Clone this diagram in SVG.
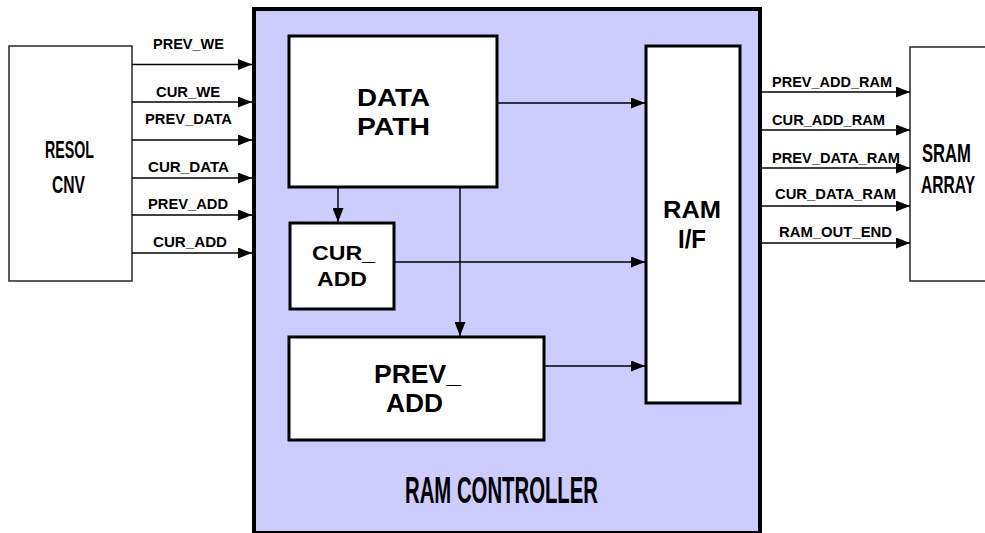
<svg xmlns="http://www.w3.org/2000/svg" width="985" height="533" viewBox="0 0 985 533">
<style>
.ext{fill:#fff;stroke:#333;stroke-width:1.6}
.blk{fill:#fff;stroke:#000;stroke-width:3}
.ctl{fill:#ccccff;stroke:#000;stroke-width:4}
.w{stroke:#000;stroke-width:1.4;fill:none}
.lbl{font-family:"Liberation Sans",Arial,sans-serif;font-weight:bold;font-size:14px;fill:#000}
.big{font-family:"Liberation Sans",Arial,sans-serif;font-weight:bold;fill:#000}
</style>
<defs>
<marker id="ah" markerUnits="userSpaceOnUse" markerWidth="14" markerHeight="11" refX="14" refY="5.5" orient="auto">
<path d="M0,0 L14,5.5 L0,11 z" fill="#000"/>
</marker>
</defs>
<rect width="985" height="533" fill="#fff"/>
<g id="ram-controller">
<rect class="ctl" x="254" y="9" width="506" height="524"/>
<text class="big" x="405" y="503" font-size="36" textLength="193" lengthAdjust="spacingAndGlyphs">RAM CONTROLLER</text>
</g>
<g id="resol-cnv">
<rect class="ext" x="9" y="46" width="123" height="235"/>
<text class="big" x="45" y="158" font-size="23" textLength="49" lengthAdjust="spacingAndGlyphs">RESOL</text>
<text class="big" x="52" y="193" font-size="24" textLength="33" lengthAdjust="spacingAndGlyphs">CNV</text>
</g>
<g id="sram-array">
<rect class="ext" x="910" y="47" width="80" height="234"/>
<text class="big" transform="translate(922,162) scale(0.64,1)" font-size="26">SRAM</text>
<text class="big" transform="translate(921,193) scale(0.68,1)" font-size="23">ARRAY</text>
</g>
<g id="data-path">
<rect class="blk" x="289" y="36" width="208" height="151"/>
<text class="big" x="357" y="106" font-size="24" textLength="73" lengthAdjust="spacingAndGlyphs">DATA</text>
<text class="big" x="357" y="135" font-size="24" textLength="73" lengthAdjust="spacingAndGlyphs">PATH</text>
</g>
<g id="cur-add">
<rect class="blk" x="290" y="223" width="104" height="86"/>
<text class="big" x="312" y="260" font-size="20" textLength="63" lengthAdjust="spacingAndGlyphs">CUR_</text>
<text class="big" x="317" y="286" font-size="20" textLength="50" lengthAdjust="spacingAndGlyphs">ADD</text>
</g>
<g id="prev-add">
<rect class="blk" x="289" y="337" width="255" height="103"/>
<text class="big" x="374" y="383" font-size="26" textLength="87" lengthAdjust="spacingAndGlyphs">PREV_</text>
<text class="big" x="386" y="412" font-size="26" textLength="57" lengthAdjust="spacingAndGlyphs">ADD</text>
</g>
<g id="ram-if">
<rect class="blk" x="646" y="46" width="94" height="357"/>
<text class="big" x="663" y="218" font-size="24" textLength="58" lengthAdjust="spacingAndGlyphs">RAM</text>
<text class="big" x="678" y="248" font-size="26" textLength="28" lengthAdjust="spacingAndGlyphs">I/F</text>
</g>
<g id="connectors">
<line class="w" x1="132" y1="64.5" x2="252" y2="64.5" marker-end="url(#ah)"/>
<line class="w" x1="132" y1="102" x2="252" y2="102" marker-end="url(#ah)"/>
<line class="w" x1="132" y1="140" x2="252" y2="140" marker-end="url(#ah)"/>
<line class="w" x1="132" y1="178" x2="252" y2="178" marker-end="url(#ah)"/>
<line class="w" x1="132" y1="215" x2="252" y2="215" marker-end="url(#ah)"/>
<line class="w" x1="132" y1="253" x2="252" y2="253" marker-end="url(#ah)"/>
<line class="w" x1="762" y1="92" x2="910" y2="92" marker-end="url(#ah)"/>
<line class="w" x1="762" y1="130" x2="910" y2="130" marker-end="url(#ah)"/>
<line class="w" x1="762" y1="168" x2="910" y2="168" marker-end="url(#ah)"/>
<line class="w" x1="762" y1="206" x2="910" y2="206" marker-end="url(#ah)"/>
<line class="w" x1="762" y1="243" x2="910" y2="243" marker-end="url(#ah)"/>
<line class="w" x1="498" y1="103" x2="645" y2="103" marker-end="url(#ah)"/>
<line class="w" x1="395" y1="262" x2="645" y2="262" marker-end="url(#ah)"/>
<line class="w" x1="545" y1="366" x2="645" y2="366" marker-end="url(#ah)"/>
<line class="w" x1="338" y1="188" x2="338" y2="222" marker-end="url(#ah)"/>
<line class="w" x1="460" y1="188" x2="460" y2="336" marker-end="url(#ah)"/>
<text class="lbl" x="153" y="49" textLength="71" lengthAdjust="spacingAndGlyphs">PREV_WE</text>
<text class="lbl" x="156" y="97" textLength="64" lengthAdjust="spacingAndGlyphs">CUR_WE</text>
<text class="lbl" x="145" y="124" textLength="87" lengthAdjust="spacingAndGlyphs">PREV_DATA</text>
<text class="lbl" x="148" y="172" textLength="81" lengthAdjust="spacingAndGlyphs">CUR_DATA</text>
<text class="lbl" x="148" y="209" textLength="80" lengthAdjust="spacingAndGlyphs">PREV_ADD</text>
<text class="lbl" x="153" y="247" textLength="74" lengthAdjust="spacingAndGlyphs">CUR_ADD</text>
<text class="lbl" x="772" y="87" textLength="120" lengthAdjust="spacingAndGlyphs">PREV_ADD_RAM</text>
<text class="lbl" x="772" y="125" textLength="113" lengthAdjust="spacingAndGlyphs">CUR_ADD_RAM</text>
<text class="lbl" x="772" y="163" textLength="128" lengthAdjust="spacingAndGlyphs">PREV_DATA_RAM</text>
<text class="lbl" x="775" y="199" textLength="121" lengthAdjust="spacingAndGlyphs">CUR_DATA_RAM</text>
<text class="lbl" x="779" y="237" textLength="113" lengthAdjust="spacingAndGlyphs">RAM_OUT_END</text>
</g>
</svg>
